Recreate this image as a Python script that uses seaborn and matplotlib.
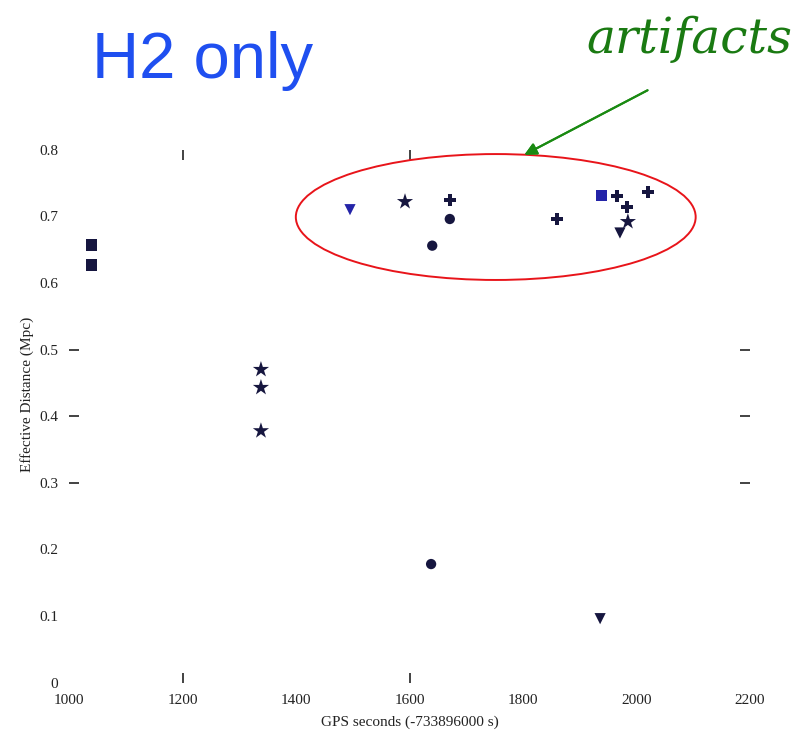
import matplotlib
matplotlib.use("Agg")
import matplotlib.pyplot as plt
from matplotlib.patches import Ellipse
import seaborn as sns
import pandas as pd

# Trigger times (GPS seconds, offset) and effective distances for H2-only events
gps_time = [1039, 1039, 1338, 1338, 1338, 1495, 1592, 1671, 1671, 1640,
            1860, 1939, 1966, 1983, 1985, 1971, 2020, 1638, 1936]
eff_distance = [0.657, 0.627, 0.470, 0.443, 0.378, 0.710, 0.722, 0.725, 0.696, 0.656,
                0.696, 0.731, 0.731, 0.714, 0.692, 0.675, 0.737, 0.178, 0.096]
marker_kind = ["square", "square", "star", "star", "star", "tri", "star", "plus", "dot", "dot",
               "plus", "square", "plus", "plus", "star", "tri", "plus", "dot", "tri"]
detector_group = ["dark", "dark", "dark", "dark", "dark", "blue", "dark", "dark", "dark", "dark",
                  "dark", "blue", "dark", "dark", "dark", "dark", "dark", "dark", "dark"]

x_ticks = [1000, 1200, 1400, 1600, 1800, 2000, 2200]
y_ticks = [0, 0.1, 0.2, 0.3, 0.4, 0.5, 0.6, 0.7, 0.8]
y_tick_labels = ["0", "0.1", "0.2", "0.3", "0.4", "0.5", "0.6", "0.7", "0.8"]

df = pd.DataFrame({"t": gps_time, "d": eff_distance,
                   "kind": marker_kind, "grp": detector_group})

sns.set_theme(style="white")
plt.rcParams["font.family"] = ["Liberation Serif", "DejaVu Serif"]

fig = plt.figure(figsize=(7.96, 7.34), dpi=100)
ax = fig.add_axes([0.087, 0.070, 0.855, 0.726])

sns.scatterplot(data=df, x="t", y="d", hue="grp", style="kind", size="kind",
                palette={"dark": "#16163f", "blue": "#2424a8"},
                markers={"square": "s", "star": "*", "plus": "P", "dot": "o", "tri": "v"},
                sizes={"square": 65, "star": 150, "plus": 75, "dot": 55, "tri": 65},
                edgecolor="none", legend=False, ax=ax)

ax.set_xlim(1000, 2200)
ax.set_ylim(0, 0.8)
ax.set_xticks(x_ticks)
ax.set_xticklabels([str(v) for v in x_ticks])
ax.set_yticks(y_ticks)
ax.set_yticklabels(y_tick_labels)
for s in ax.spines.values():
    s.set_visible(False)

ax.tick_params(axis="both", which="major", direction="in", length=7, width=1.2,
               colors="#222222", labelsize=11, top=True, right=True,
               labelright=False, labeltop=False, pad=8)
for val, tick in zip(y_ticks, ax.yaxis.get_major_ticks()):
    show = val in (0.3, 0.4, 0.5)
    tick.tick1line.set_visible(show)
    tick.tick2line.set_visible(show)
for val, tick in zip(x_ticks, ax.xaxis.get_major_ticks()):
    show = val in (1200, 1600)
    tick.tick1line.set_visible(show)
    tick.tick2line.set_visible(show)

ax.set_xlabel("GPS seconds (-733896000 s)", fontsize=11, color="#222222", labelpad=6)
ax.set_ylabel("Effective Distance (Mpc)", fontsize=11, color="#222222")
ax.yaxis.set_label_coords(-0.052, 0.54)

# Circle the clustered events near the top
ax.add_patch(Ellipse((1752, 0.699), width=705, height=0.189, fill=False,
                     edgecolor="#e8141a", linewidth=1.4))

fig.text(0.116, 0.917, "H2 only", color="#1f4ff0", fontsize=47,
         family=["Liberation Sans", "DejaVu Sans"], va="center", ha="left")
fig.text(0.995, 0.946, "artifacts", color="#1a7a12", fontsize=35,
         family=["DejaVu Serif"], style="italic", va="center", ha="right")
fig.add_artist(plt.annotate("", xy=(522 / 796, 1 - 156 / 734), xycoords="figure fraction",
                            xytext=(650 / 796, 1 - 89 / 734), textcoords="figure fraction",
                            arrowprops=dict(arrowstyle="-|>", color="#1a8a12", lw=1.5,
                                            mutation_scale=18)))

fig.savefig("out.png", dpi=100)
